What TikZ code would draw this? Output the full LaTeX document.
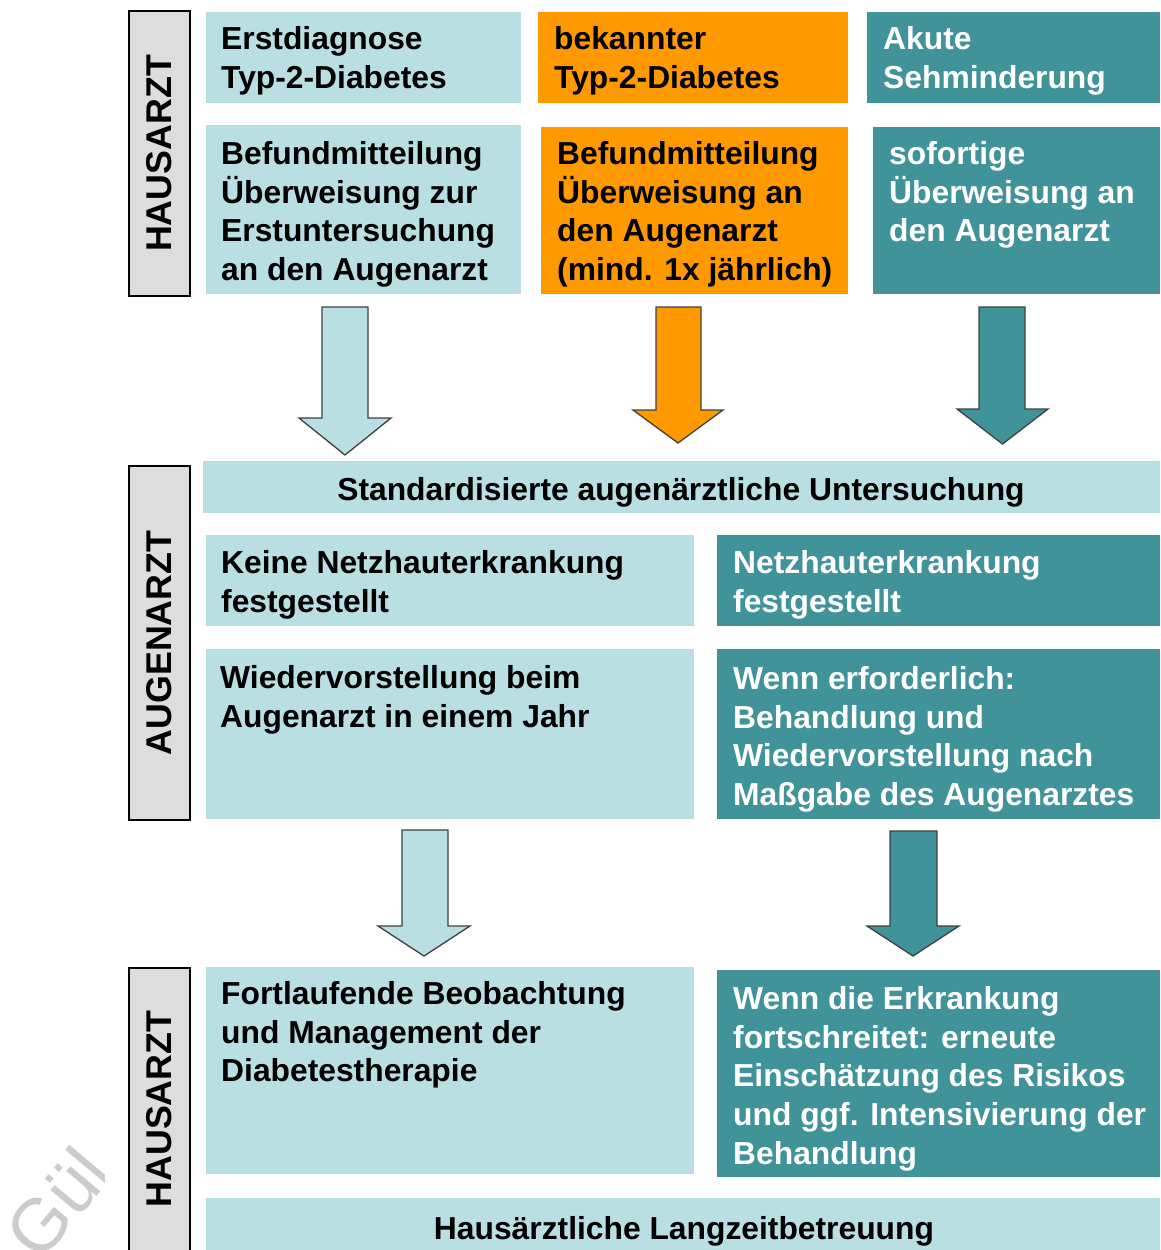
\documentclass[tikz,border=0pt]{standalone}
\usepackage{fontspec}
\setmainfont{Liberation Sans}
\definecolor{lb}{HTML}{B9DFE2}
\definecolor{org}{HTML}{FF9900}
\definecolor{teal2}{HTML}{41939A}
\definecolor{sidegray}{HTML}{DDDDDD}
\definecolor{arrline}{HTML}{404040}
\definecolor{wmgray}{HTML}{CCCCCC}
\tikzset{
  box/.style={rectangle, inner sep=0, outer sep=0, anchor=north west},
  lbbox/.style={box, fill=lb},
  orbox/.style={box, fill=org},
  tlbox/.style={box, fill=teal2},
  sidebox/.style={box, fill=sidegray, draw=black, line width=2.6pt},
  txt/.style={inner sep=0, anchor=north west, align=left, font=\fontsize{31.8}{38.8}\selectfont\bfseries},
  wtxt/.style={txt, text=white},
  sidetxt/.style={inner sep=0, rotate=90, font=\fontsize{35.8}{40}\selectfont\bfseries},
  blockarrow/.style={draw=arrline, line width=1.3pt, line join=miter},
}
\newcommand{\bx}[6]{\node[#1, minimum width=#4-#2, minimum height=#5-#3] (#6) at (#2,#3) {};}
\begin{document}
\begin{tikzpicture}[x=1pt,y=-1pt]
\useasboundingbox (0,0) rectangle (1160,1250);
% watermark
\begin{scope}
\clip (0,1100) rectangle (104,1250);
\node[inner sep=0, anchor=base west, rotate=50, text=wmgray, font=\fontsize{74}{80}\selectfont] (wm) at (40,1264) {Gül};
\end{scope}
% side labels
\bx{sidebox}{129}{11}{190}{296}{s1}
\node[sidetxt] (s1t) at (s1.center) {HAUSARZT};
\bx{sidebox}{129}{466}{190}{820}{s2}
\node[sidetxt] (s2t) at (s2.center) {AUGENARZT};
\bx{sidebox}{129}{968}{190}{1262}{s3}
\node[sidetxt] (s3t) at (159.5,1109) {HAUSARZT};
% row 1
\bx{lbbox}{206}{12}{521}{103}{a1}
\node[txt] (a1t) at (221,22) {\strut Erstdiagnose\\Typ-2-Diabetes};
\bx{orbox}{538}{12}{848}{103}{b1}
\node[txt] (b1t) at (554,22) {\strut bekannter\\Typ-2-Diabetes};
\bx{tlbox}{867}{12}{1160}{103}{c1}
\node[wtxt] (c1t) at (883,22) {\strut Akute\\Sehminderung};
% row 2
\bx{lbbox}{206}{125}{521}{294}{a2}
\node[txt] (a2t) at (221,137) {\strut Befundmitteilung\\Überweisung zur\\Erstuntersuchung\\an den Augenarzt};
\bx{orbox}{541}{127}{848}{294}{b2}
\node[txt] (b2t) at (557,137) {\strut Befundmitteilung\\Überweisung an\\den Augenarzt\\(mind. 1x jährlich)};
\bx{tlbox}{873}{127}{1160}{294}{c2}
\node[wtxt] (c2t) at (889,137) {\strut sofortige\\Überweisung an\\den Augenarzt};
% arrows row 1
\draw[blockarrow, fill=lb] (322,307) -- (368,307) -- (368,418) -- (391,418) -- (345,455) -- (299,418) -- (322,418) -- cycle;
\draw[blockarrow, fill=org] (656,307) -- (701,307) -- (701,410) -- (723,410) -- (678,443) -- (633,410) -- (656,410) -- cycle;
\draw[blockarrow, fill=teal2] (979,307) -- (1025,307) -- (1025,409) -- (1048,409) -- (1002.5,444) -- (957,409) -- (979,409) -- cycle;
% standard
\bx{lbbox}{203}{461}{1160}{513}{st}
\node[txt, anchor=base] (stt) at (681,500) {Standardisierte augenärztliche Untersuchung};
% middle rows
\bx{lbbox}{206}{535}{694}{626}{d1}
\node[txt] (d1t) at (221,546) {\strut Keine Netzhauterkrankung\\festgestellt};
\bx{tlbox}{717}{535}{1160}{626}{e1}
\node[wtxt] (e1t) at (733,546) {\strut Netzhauterkrankung\\festgestellt};
\bx{lbbox}{206}{649}{694}{819}{d2}
\node[txt] (d2t) at (220,661) {\strut Wiedervorstellung beim\\Augenarzt in einem Jahr};
\bx{tlbox}{717}{649}{1160}{819}{e2}
\node[wtxt] (e2t) at (733,662) {\strut Wenn erforderlich:\\Behandlung und\\Wiedervorstellung nach\\Maßgabe des Augenarztes};
% arrows row 2
\draw[blockarrow, fill=lb] (402,830) -- (448,830) -- (448,926) -- (470,926) -- (424,956) -- (378,926) -- (402,926) -- cycle;
\draw[blockarrow, fill=teal2] (890,831) -- (937,831) -- (937,926) -- (959,926) -- (913,956) -- (867,926) -- (890,926) -- cycle;
% bottom
\bx{lbbox}{206}{967}{694}{1174}{f1}
\node[txt] (f1t) at (221,977) {\strut Fortlaufende Beobachtung\\und Management der\\Diabetestherapie};
\bx{tlbox}{717}{970}{1160}{1177}{g1}
\node[wtxt] (g1t) at (733,982) {\strut Wenn die Erkrankung\\fortschreitet: erneute\\Einschätzung des Risikos\\und ggf. Intensivierung der\\Behandlung};
\bx{lbbox}{206}{1198}{1160}{1262}{h1}
\node[txt, anchor=base] (h1t) at (684,1239) {Hausärztliche Langzeitbetreuung};
\end{tikzpicture}
\end{document}
